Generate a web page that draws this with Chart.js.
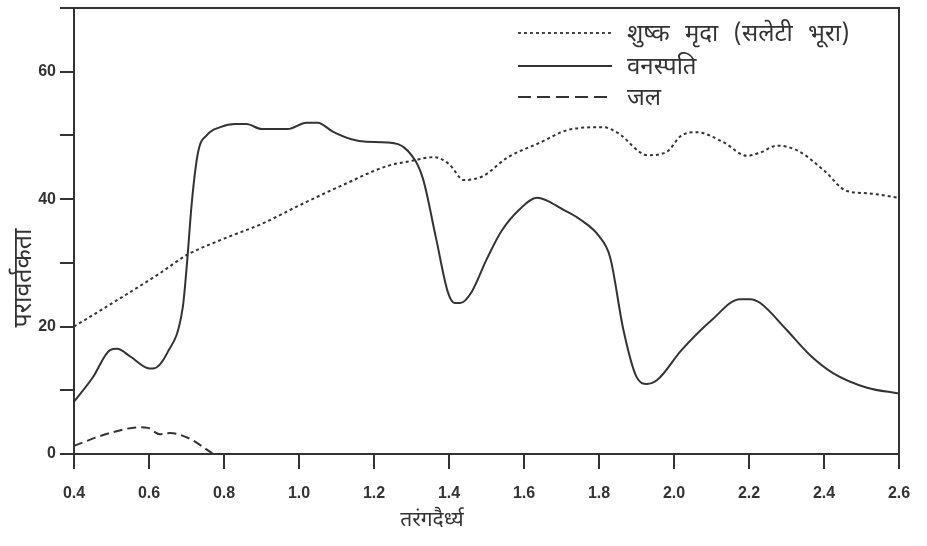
<!DOCTYPE html>
<html>
<head>
<meta charset="utf-8">
<script src="https://cdn.jsdelivr.net/npm/chart.js@4.4.0/dist/chart.umd.min.js"></script>
<style>
  html, body { margin: 0; padding: 0; background: #fff; }
  #wrap { width: 927px; height: 546px; position: relative; }
</style>
</head>
<body>
<div id="wrap"><canvas id="chart"></canvas></div>
<script>
// wavelength (x) and reflectance (y)
const soilX = [0.40, 0.50, 0.63, 0.70, 0.80, 0.90, 1.00, 1.12, 1.235, 1.30, 1.36, 1.40, 1.44, 1.49, 1.555, 1.64, 1.72, 1.81, 1.85, 1.93, 1.98, 2.02, 2.06, 2.13, 2.195, 2.23, 2.275, 2.33, 2.40, 2.46, 2.52, 2.60];
const soilY = [20, 23.6, 28.4, 31.2, 33.8, 36.1, 39, 42.3, 45.2, 46.0, 46.6, 45.5, 43, 43.6, 46.5, 48.8, 50.9, 51.3, 50.4, 46.9, 47.4, 50, 50.5, 49, 46.8, 47.3, 48.4, 47.6, 44.5, 41.3, 40.9, 40.2];

const vegX = [0.40, 0.45, 0.496, 0.515, 0.55, 0.595, 0.61, 0.648, 0.69, 0.70, 0.715, 0.731, 0.755, 0.79, 0.83, 0.86, 0.90, 0.97, 1.02, 1.05, 1.09, 1.14, 1.18, 1.235, 1.29, 1.33, 1.365, 1.397, 1.415, 1.43, 1.46, 1.50, 1.54, 1.59, 1.635, 1.664, 1.70, 1.75, 1.80, 1.83, 1.865, 1.90, 1.928, 1.955, 2.02, 2.10, 2.176, 2.203, 2.23, 2.30, 2.363, 2.424, 2.515, 2.60];
const vegY = [8.2, 12, 16.3, 16.5, 15.3, 13.5, 13.4, 15.8, 23, 29, 40, 47.4, 50.1, 51.3, 51.8, 51.8, 51, 51, 52, 52, 50.6, 49.4, 49, 48.9, 47.6, 43.3, 34, 25.4, 23.7, 23.7, 25.4, 30.5, 35, 38.5, 40.2, 39.7, 38.5, 36.8, 34.2, 30.8, 19.5, 12.1, 11, 11.6, 16.3, 21, 24.3, 24.3, 23.7, 19.5, 15.5, 12.7, 10.4, 9.5];

const waterX = [0.40, 0.496, 0.576, 0.597, 0.629, 0.656, 0.709, 0.744, 0.771];
const waterY = [1.3, 3.3, 4.2, 4.1, 3.1, 3.3, 2.4, 1.1, 0];

const yLabels = [0, 20, 40, 60];
const seriesNames = ['शुष्क मृदा (सलेटी भूरा)', 'वनस्पति', 'जल'];
const xTitle = 'तरंगदैर्ध्य';
const yTitle = 'परावर्तकता';

const INK = '#333';
const DEV_FONT = '"Noto Sans Devanagari", "Lohit Devanagari", "Noto Sans", sans-serif';
const TICK_FONT = { family: '"Liberation Sans", Arial, sans-serif', size: 16, weight: 'bold' };

function toPoints(xs, ys) {
    return xs.map((x, i) => ({ x: x, y: ys[i] }));
}

// legend + frame + axis titles
const extras = {
    id: 'extras',
    afterDraw(chart) {
        const ctx = chart.ctx;
        const a = chart.chartArea;
        ctx.save();
        ctx.strokeStyle = INK;
        ctx.lineWidth = 2;
        ctx.beginPath();
        ctx.moveTo(a.left - 14, a.top);
        ctx.lineTo(a.right, a.top);
        ctx.lineTo(a.right, a.bottom);
        ctx.stroke();

        const rows = [
            { y: 33, dash: [3, 3] },
            { y: 66, dash: [] },
            { y: 97, dash: [13, 6] }
        ];
        ctx.fillStyle = INK;
        ctx.font = '24px ' + DEV_FONT;
        ctx.wordSpacing = '9px';
        ctx.textBaseline = 'middle';
        ctx.textAlign = 'left';
        rows.forEach((r, i) => {
            ctx.setLineDash(r.dash);
            ctx.lineWidth = 1.8;
            ctx.beginPath();
            ctx.moveTo(518, r.y);
            ctx.lineTo(612, r.y);
            ctx.stroke();
            ctx.fillText(seriesNames[i], 627, r.y + 4);
        });
        ctx.setLineDash([]);
        ctx.wordSpacing = '0px';

        ctx.textAlign = 'center';
        ctx.font = '21px ' + DEV_FONT;
        ctx.fillText(xTitle, 432, 522);
        ctx.font = '25px ' + DEV_FONT;
        ctx.translate(26, 278);
        ctx.rotate(-Math.PI / 2);
        ctx.fillText(yTitle, 0, 0);
        ctx.restore();
    }
};

const common = {
    borderColor: INK,
    borderWidth: 2,
    pointRadius: 0,
    fill: false,
    cubicInterpolationMode: 'monotone'
};

new Chart(document.getElementById('chart'), {
    type: 'line',
    data: {
        datasets: [
            Object.assign({ label: seriesNames[0], data: toPoints(soilX, soilY), borderDash: [3, 3] }, common),
            Object.assign({ label: seriesNames[1], data: toPoints(vegX, vegY) }, common),
            Object.assign({ label: seriesNames[2], data: toPoints(waterX, waterY), borderDash: [9, 5] }, common)
        ]
    },
    options: {
        responsive: true,
        maintainAspectRatio: false,
        animation: false,
        layout: { padding: { left: 0, top: 8, right: 28, bottom: 0 } },
        plugins: {
            legend: { display: false },
            tooltip: { enabled: false }
        },
        scales: {
            x: {
                type: 'linear',
                min: 0.4,
                max: 2.6,
                afterFit: s => { s.height = 92; s.paddingLeft = 0; s.paddingRight = 0; },
                border: { color: INK, width: 2 },
                grid: { drawOnChartArea: false, color: INK, lineWidth: 2, tickLength: 15 },
                ticks: {
                    stepSize: 0.2,
                    color: INK,
                    padding: 15,
                    font: TICK_FONT,
                    callback: v => v.toFixed(1)
                }
            },
            y: {
                min: 0,
                max: 70,
                afterFit: s => { s.width = 74; s.paddingTop = 0; s.paddingBottom = 0; },
                border: { color: INK, width: 2 },
                grid: { drawOnChartArea: false, color: INK, lineWidth: 2, tickLength: 14 },
                ticks: {
                    stepSize: 10,
                    color: INK,
                    padding: 4,
                    font: TICK_FONT,
                    callback: v => yLabels.includes(v) ? String(v) : ''
                }
            }
        }
    },
    plugins: [extras]
});
</script>
</body>
</html>
